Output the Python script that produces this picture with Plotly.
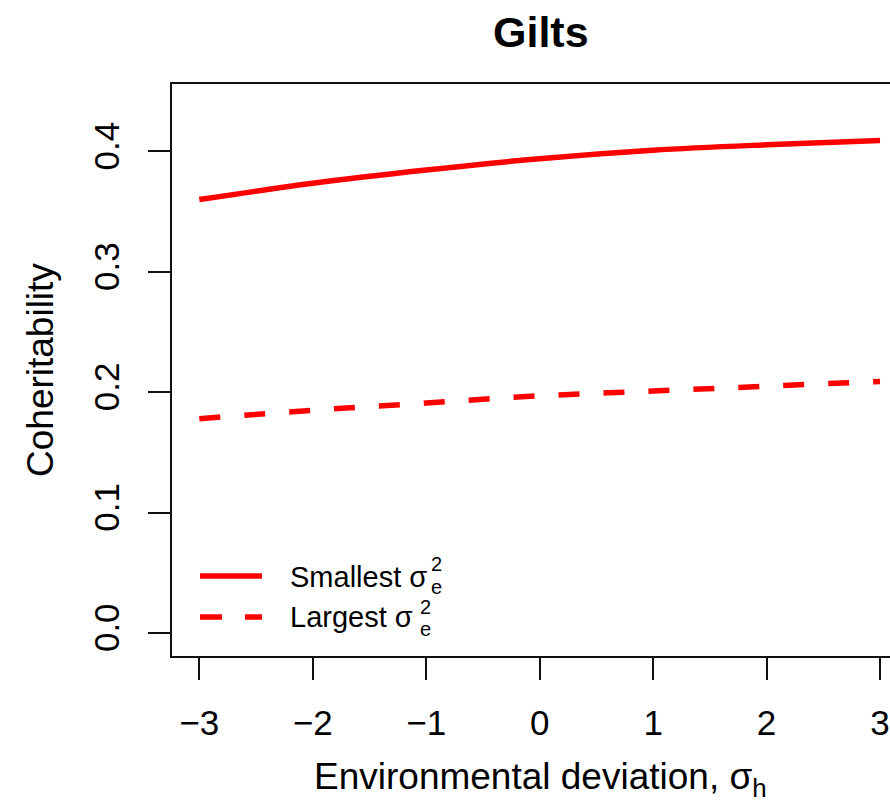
import plotly.graph_objects as go

# Coheritability of gilts across environmental deviations
env_dev = [-3, -2, -1, 0, 1, 2, 3]
smallest_var = [0.360, 0.3735, 0.3845, 0.394, 0.401, 0.4055, 0.409]
largest_var = [0.178, 0.185, 0.191, 0.197, 0.201, 0.205, 0.209]

x_ticks = [-3, -2, -1, 0, 1, 2, 3]
x_ticktext = ["\u22123", "\u22122", "\u22121", "0", "1", "2", "3"]
y_ticks = [0.0, 0.1, 0.2, 0.3, 0.4]
y_ticktext = ["0.0", "0.1", "0.2", "0.3", "0.4"]

W, H = 890, 808
L, R, T, B = 172, 0, 84, 152
PW, PH = W - L - R, H - T - B


def px(xp):
    return (xp - L) / PW


def py(yp):
    return (H - B - yp) / PH


FONT = "Liberation Sans, Arial, Helvetica, sans-serif"
RED = "#FF0000"

fig = go.Figure()
fig.add_trace(go.Scatter(x=env_dev, y=smallest_var, mode="lines",
                         line=dict(color=RED, width=5.5, shape="spline"),
                         showlegend=False))
fig.add_trace(go.Scatter(x=env_dev, y=largest_var, mode="lines",
                         line=dict(color=RED, width=5.5, shape="spline", dash="21px,24px"),
                         showlegend=False))

axis_common = dict(showline=True, linecolor="#111", linewidth=2, ticks="outside",
                   ticklen=22, tickwidth=2, tickcolor="#111", showgrid=False,
                   zeroline=False, tickfont=dict(size=35, color="black", family=FONT))

fig.update_xaxes(range=[-3.2406, 3.088], tickvals=x_ticks, ticktext=x_ticktext,
                 mirror=True, ticklabelstandoff=13, **axis_common)
fig.update_yaxes(range=[-0.0191, 0.456], tickvals=y_ticks, ticktext=y_ticktext,
                 mirror=False, tickangle=-90, ticklabelstandoff=15, **axis_common)

annotations = [
    dict(text="<b>Gilts</b>", x=px(541), y=py(32), font=dict(size=43)),
    dict(text="Environmental deviation, \u03c3<sub>h</sub>", x=px(540), y=py(779),
         font=dict(size=37)),
    dict(text="Coheritability", x=px(40), y=py(370), textangle=-90, font=dict(size=37)),
    # legend labels
    dict(text="Smallest \u03c3", x=px(288), y=py(577), xanchor="left", font=dict(size=29)),
    dict(text="2", x=px(429), y=py(564), xanchor="left", font=dict(size=20)),
    dict(text="e", x=px(429), y=py(587), xanchor="left", font=dict(size=20)),
    dict(text="Largest \u03c3", x=px(288), y=py(617), xanchor="left", font=dict(size=29)),
    dict(text="2", x=px(418), y=py(607), xanchor="left", font=dict(size=20)),
    dict(text="e", x=px(418), y=py(629), xanchor="left", font=dict(size=20)),
]
for a in annotations:
    a.setdefault("xanchor", "center")
    a.update(xref="paper", yref="paper", showarrow=False, yanchor="middle")
    a["font"].update(family=FONT, color="black")

shapes = [
    dict(type="line", xref="paper", yref="paper", x0=px(200), x1=px(262), y0=py(576), y1=py(576),
         line=dict(color=RED, width=5.5)),
    dict(type="line", xref="paper", yref="paper", x0=px(200), x1=px(262), y0=py(617), y1=py(617),
         line=dict(color=RED, width=5.5, dash="22px,23px")),
]

fig.update_layout(width=W, height=H, margin=dict(l=L, r=R, t=T, b=B, pad=0),
                  paper_bgcolor="white", plot_bgcolor="white",
                  annotations=annotations, shapes=shapes,
                  font=dict(family=FONT, color="black"))

fig.write_html("out.html")
